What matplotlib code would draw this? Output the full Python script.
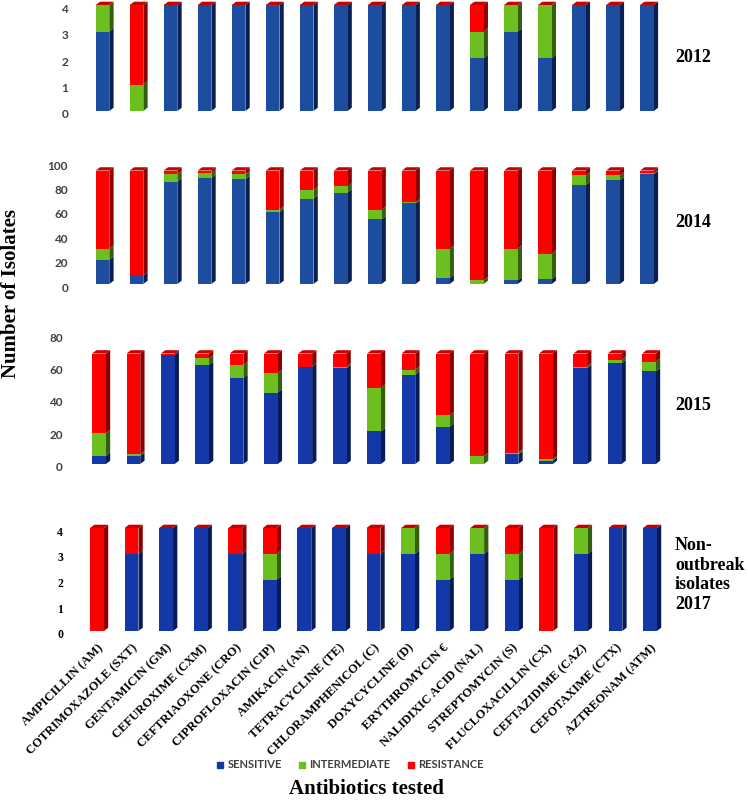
import numpy as np
import matplotlib
matplotlib.use("Agg")
import matplotlib.pyplot as plt
from matplotlib.patches import Polygon
from matplotlib.lines import Line2D
from matplotlib.transforms import ScaledTranslation

categories = ["AMPICILLIN (AM)", "COTRIMOXAZOLE (SXT)", "GENTAMICIN (GM)", "CEFUROXIME (CXM)",
              "CEFTRIAOXONE (CRO)", "CIPROFLOXACIN (CIP)", "AMIKACIN (AN)", "TETRACYCLINE (TE)",
              "CHLORAMPHENICOL (C)", "DOXYCYCLINE (D)", "ERYTHROMYCIN €", "NALIDIXIC ACID (NAL)",
              "STREPTOMYCIN (S)", "FLUCLOXACILLIN (CX)", "CEFTAZIDIME (CAZ)", "CEFOTAXIME (CTX)",
              "AZTREONAM (ATM)"]

sens_2012 = [3, 0, 4, 4, 4, 4, 4, 4, 4, 4, 4, 2, 3, 2, 4, 4, 4]
inter_2012 = [1, 1, 0, 0, 0, 0, 0, 0, 0, 0, 0, 1, 1, 2, 0, 0, 0]
res_2012 = [0, 3, 0, 0, 0, 0, 0, 0, 0, 0, 0, 1, 0, 0, 0, 0, 0]

sens_2014 = [20, 7, 84, 87, 86, 59, 70, 75, 53, 66, 5, 0, 3, 4, 81, 85, 90]
inter_2014 = [9, 0, 6, 4, 4, 2, 7, 5, 8, 1, 24, 3, 26, 21, 8, 4, 1]
res_2014 = [64, 86, 3, 2, 3, 32, 16, 13, 32, 26, 64, 90, 64, 68, 4, 4, 2]

sens_2015 = [5, 5, 67, 61, 53, 44, 60, 59, 20, 55, 23, 0, 6, 2, 59, 62, 57]
inter_2015 = [14, 1, 0, 4, 8, 12, 0, 1, 27, 3, 7, 5, 1, 1, 1, 2, 6]
res_2015 = [49, 62, 1, 3, 7, 12, 8, 8, 21, 10, 38, 63, 61, 65, 8, 4, 5]

sens_2017 = [0, 3, 4, 4, 3, 2, 4, 4, 3, 3, 2, 3, 2, 0, 3, 4, 4]
inter_2017 = [0, 0, 0, 0, 0, 1, 0, 0, 0, 1, 1, 1, 1, 0, 1, 0, 0]
res_2017 = [4, 1, 0, 0, 1, 1, 0, 0, 1, 0, 1, 0, 1, 4, 0, 0, 0]

legend_labels = ["SENSITIVE", "INTERMEDIATE", "RESISTANCE"]
panel_titles = ["2012", "2014", "2015", "Non-\noutbreak\nisolates\n2017"]

W, H = 748, 800
fig = plt.figure(figsize=(W / 100, H / 100), dpi=100)

GREEN = "#6cbf1e"
RED = "#ff0000"
SIDE_GREEN = "#335f0c"
SIDE_RED = "#8e0000"
TOP_RED = "#c80000"

# panel geometry in pixels: first bar centre, last bar centre, y of zero, y of ymax
panels = [
    dict(s=sens_2012, i=inter_2012, r=res_2012, first=102.5, last=647, y0=111, ytop=5, ymax=4,
         ticks=[0, 1, 2, 3, 4], blue="#1d4d9f", side_blue="#0b1f52", serif=False),
    dict(s=sens_2014, i=inter_2014, r=res_2014, first=102.5, last=647, y0=284, ytop=162, ymax=100,
         ticks=[0, 20, 40, 60, 80, 100], blue="#1d4d9f", side_blue="#0b1f52", serif=False),
    dict(s=sens_2015, i=inter_2015, r=res_2015, first=99, last=649, y0=464, ytop=334, ymax=80,
         ticks=[0, 20, 40, 60, 80], blue="#1538a8", side_blue="#0a1a55", serif=False),
    dict(s=sens_2017, i=inter_2017, r=res_2017, first=97, last=650, y0=631, ytop=528, ymax=4,
         ticks=[0, 1, 2, 3, 4], blue="#1538a8", side_blue="#0a1a55", serif=True),
]
title_y = [57, 222, 406, 575]

x = np.arange(len(categories))
n = len(categories)
bw = 0.4
DX_PX, DY_PX = 4.3, 3.3

for k, p in enumerate(panels):
    pitch = (p["last"] - p["first"]) / (n - 1)
    left = p["first"] - 0.5 * pitch
    right = p["last"] + 0.5 * pitch
    ax = fig.add_axes([left / W, 1 - p["y0"] / H, (right - left) / W, (p["y0"] - p["ytop"]) / H])
    ax.set_xlim(-0.5, n - 0.5)
    ax.set_ylim(0, p["ymax"])
    for sp in ax.spines.values():
        sp.set_visible(False)
    xppu = pitch
    yppu = (p["y0"] - p["ytop"]) / p["ymax"]
    dx = DX_PX / xppu
    dy = DY_PX / yppu

    s = np.array(p["s"], float)
    iv = np.array(p["i"], float)
    r = np.array(p["r"], float)
    segs = [(s, np.zeros(n), p["blue"], p["side_blue"]),
            (iv, s, GREEN, SIDE_GREEN),
            (r, s + iv, RED, SIDE_RED)]
    for vals, bottoms, c, sc in segs:
        ax.bar(x, vals, width=bw, bottom=bottoms, color=c, linewidth=0, clip_on=False, zorder=2)
        for xi, v, b in zip(x, vals, bottoms):
            if v <= 0:
                continue
            xr = xi + bw / 2
            ax.add_patch(Polygon([(xr, b), (xr + dx, b + dy), (xr + dx, b + v + dy), (xr, b + v)],
                                 closed=True, facecolor=sc, edgecolor="none", clip_on=False, zorder=1.9))
    tops = s + iv + r
    for xi, t in zip(x, tops):
        ax.add_patch(Polygon([(xi - bw / 2, t), (xi + bw / 2, t), (xi + bw / 2 + dx, t + dy),
                              (xi - bw / 2 + dx, t + dy)], closed=True, facecolor=TOP_RED,
                             edgecolor="none", clip_on=False, zorder=2.1))

    ax.set_yticks(p["ticks"])
    if p["serif"]:
        ax.set_yticklabels([str(t) for t in p["ticks"]], fontfamily="Liberation Serif",
                           fontweight="bold", fontsize=8.5, color="black")
    else:
        ax.set_yticklabels([str(t) for t in p["ticks"]], fontfamily="Lato",
                           fontweight="bold", fontsize=8.5, color="#404040")
    pad_px = p["first"] - 0.5 * pitch - (68 if k < 2 else 63)
    ax.tick_params(axis="y", length=0, pad=pad_px * 0.72)
    off = ScaledTranslation(0, -3 / 100, fig.dpi_scale_trans)
    for lab in ax.get_yticklabels():
        lab.set_transform(lab.get_transform() + off)
    if k < 3:
        ax.set_xticks([])
    else:
        ax.set_xticks(x)
        ax.set_xticklabels(categories, rotation=45, ha="right", va="top", rotation_mode="anchor",
                           fontfamily="Liberation Serif", fontweight="bold", fontsize=9)
        ax.tick_params(axis="x", length=0, pad=8)
    ax.patch.set_alpha(0)
    fig.text(675 / W, 1 - title_y[k] / H, panel_titles[k], fontfamily="Liberation Serif",
             fontweight="bold", fontsize=13, ha="left", va="center", linespacing=1.2)

fig.text(11 / W, 1 - 294 / H, "Number of Isolates", rotation=90, ha="center", va="center",
         fontfamily="Liberation Serif", fontweight="bold", fontsize=15)
fig.text(366 / W, 1 - 789 / H, "Antibiotics tested", ha="center", va="center",
         fontfamily="Liberation Serif", fontweight="bold", fontsize=15)

handles = [Line2D([], [], marker="s", linestyle="none", markersize=5, color=c)
           for c in ["#1538a8", GREEN, RED]]
leg = fig.legend(handles, legend_labels, loc="center", bbox_to_anchor=(350 / W, 1 - 765 / H),
                 ncol=3, frameon=False, handlelength=0.6, handletextpad=0.4, columnspacing=1.5,
                 prop=dict(family="Lato", size=8, weight="bold"))
for t in leg.get_texts():
    t.set_color("#404040")

fig.savefig("out.png", dpi=100)
